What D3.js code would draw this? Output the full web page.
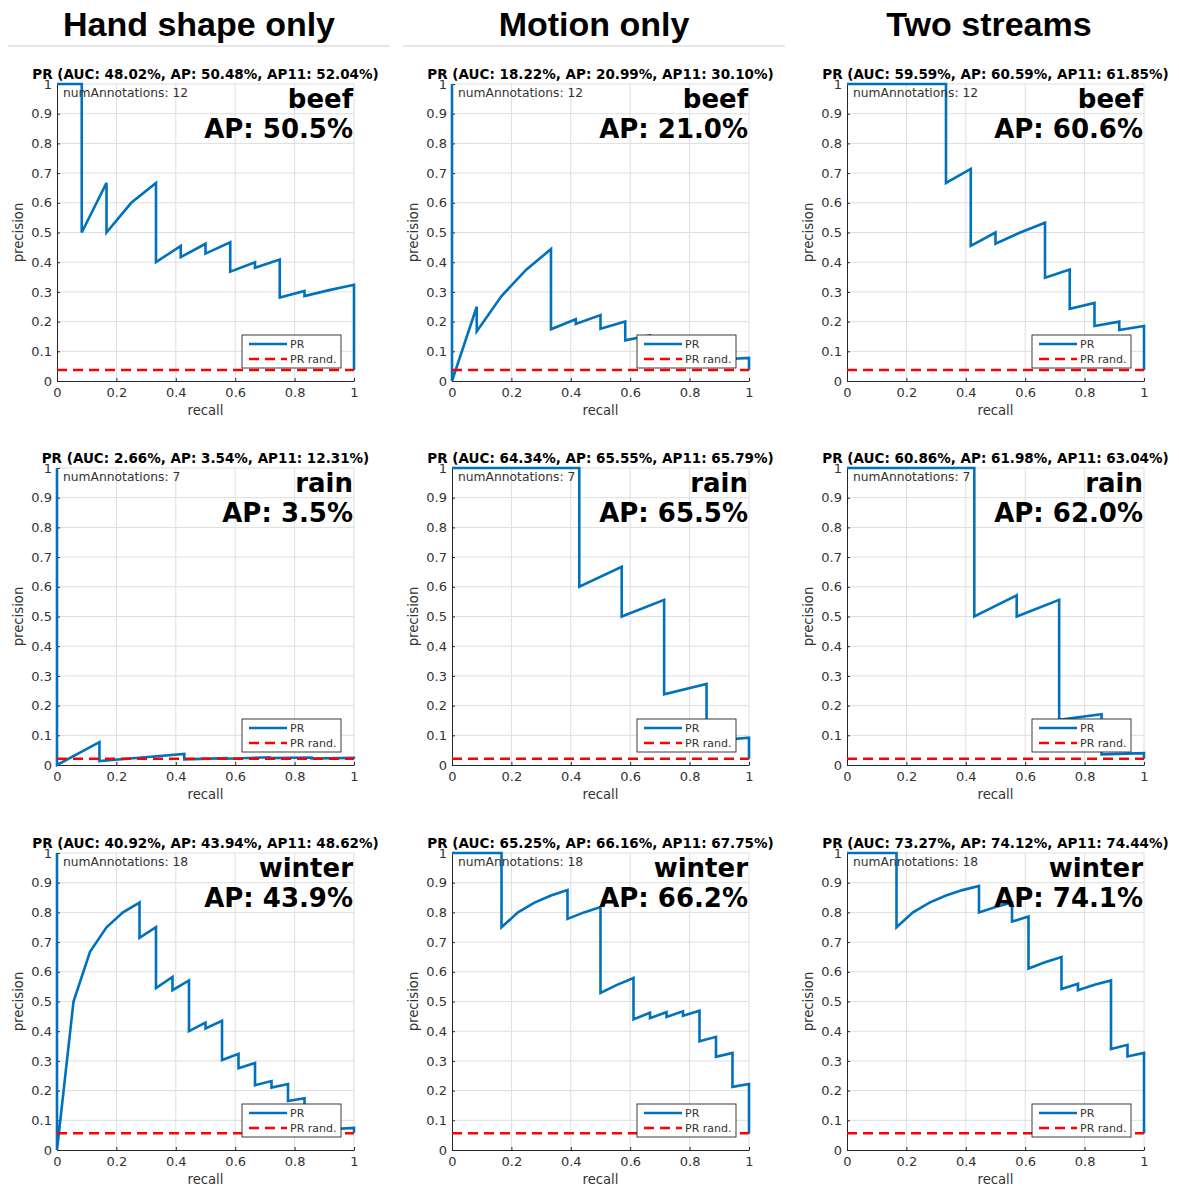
<!DOCTYPE html>
<html>
<head>
<meta charset="utf-8">
<script src="https://cdn.jsdelivr.net/npm/d3@7"></script>
<style>
  html, body { margin: 0; padding: 0; background: #fff; }
  svg { display: block; }
</style>
</head>
<body>
<svg id="chart" width="1179" height="1187"></svg>
<script>
// Column headers (one per feature stream) and row classes
const methods = ["Hand shape only", "Motion only", "Two streams"];
const classes = ["beef", "rain", "winter"];
const numAnnotations = [12, 7, 18];
const randPrecision = [0.037, 0.021, 0.056];

// Summary scores per class (rows) and method (columns), in percent
const aucValues  = [[48.02, 18.22, 59.59], [2.66, 64.34, 60.86], [40.92, 65.25, 73.27]];
const apValues   = [[50.48, 20.99, 60.59], [3.54, 65.55, 61.98], [43.94, 66.16, 74.12]];
const ap11Values = [[52.04, 30.10, 61.85], [12.31, 65.79, 63.04], [48.62, 67.75, 74.44]];

// Axis ticks
const xTicks = [0, 0.2, 0.4, 0.6, 0.8, 1];
const xTickLabels = ["0", "0.2", "0.4", "0.6", "0.8", "1"];
const yTicks = [0, 0.1, 0.2, 0.3, 0.4, 0.5, 0.6, 0.7, 0.8, 0.9, 1];
const yTickLabels = ["0", "0.1", "0.2", "0.3", "0.4", "0.5", "0.6", "0.7", "0.8", "0.9", "1"];

// Precision-recall curves, [recall, precision]
const prBeefHand = [[0,1],[0.0833,1],[0.0833,0.5],[0.1667,0.667],[0.1667,0.5],[0.25,0.6],[0.3333,0.667],[0.3333,0.4],[0.4167,0.455],[0.4167,0.417],[0.5,0.462],[0.5,0.429],[0.5833,0.467],[0.5833,0.368],[0.6667,0.4],[0.6667,0.381],[0.75,0.409],[0.75,0.281],[0.8333,0.303],[0.8333,0.286],[0.9167,0.306],[1,0.324],[1,0.037]];
const prBeefMotion = [[0,1],[0,0],[0.0833,0.25],[0.0833,0.167],[0.1667,0.286],[0.25,0.375],[0.3333,0.444],[0.3333,0.174],[0.4167,0.208],[0.4167,0.192],[0.5,0.222],[0.5,0.176],[0.5833,0.2],[0.5833,0.137],[0.6667,0.154],[0.6667,0.11],[0.75,0.12],[0.75,0.09],[0.8333,0.1],[0.8333,0.07],[0.9167,0.073],[1,0.078],[1,0.037]];
const prBeefTwo = [[0,1],[0.0833,1],[0.1667,1],[0.25,1],[0.3333,1],[0.3333,0.667],[0.4167,0.714],[0.4167,0.455],[0.5,0.5],[0.5,0.462],[0.5833,0.5],[0.6667,0.533],[0.6667,0.348],[0.75,0.375],[0.75,0.243],[0.8333,0.263],[0.8333,0.185],[0.9167,0.2],[0.9167,0.172],[1,0.185],[1,0.037]];
const prRainHand = [[0,1],[0,0],[0.1429,0.077],[0.1429,0.013],[0.2857,0.025],[0.4286,0.037],[0.4286,0.019],[0.5714,0.023],[0.5714,0.021],[0.7143,0.026],[0.7143,0.023],[0.8571,0.025],[0.8571,0.022],[1,0.024],[1,0.021]];
const prRainMotion = [[0,1],[0.1429,1],[0.2857,1],[0.4286,1],[0.4286,0.6],[0.5714,0.667],[0.5714,0.5],[0.7143,0.556],[0.7143,0.238],[0.8571,0.273],[0.8571,0.08],[1,0.092],[1,0.021]];
const prRainTwo = [[0,1],[0.1429,1],[0.2857,1],[0.4286,1],[0.4286,0.5],[0.5714,0.571],[0.5714,0.5],[0.7143,0.556],[0.7143,0.152],[0.8571,0.171],[0.8571,0.036],[1,0.04],[1,0.021]];
const prWinterHand = [[0,1],[0,0],[0.0556,0.5],[0.1111,0.667],[0.1667,0.75],[0.2222,0.8],[0.2778,0.833],[0.2778,0.714],[0.3333,0.75],[0.3333,0.545],[0.3889,0.583],[0.3889,0.538],[0.4444,0.571],[0.4444,0.4],[0.5,0.429],[0.5,0.409],[0.5556,0.435],[0.5556,0.303],[0.6111,0.324],[0.6111,0.275],[0.6667,0.293],[0.6667,0.218],[0.7222,0.232],[0.7222,0.21],[0.7778,0.222],[0.7778,0.165],[0.8333,0.174],[0.8333,0.115],[0.8889,0.122],[0.8889,0.07],[0.9444,0.0736],[0.9444,0.071],[1,0.0744],[1,0.058]];
const prWinterMotion = [[0,1],[0.0556,1],[0.1111,1],[0.1667,1],[0.1667,0.75],[0.2222,0.8],[0.2778,0.833],[0.3333,0.857],[0.3889,0.875],[0.3889,0.778],[0.4444,0.8],[0.5,0.818],[0.5,0.529],[0.5556,0.556],[0.6111,0.579],[0.6111,0.44],[0.6667,0.462],[0.6667,0.444],[0.7222,0.464],[0.7222,0.448],[0.7778,0.467],[0.7778,0.452],[0.8333,0.469],[0.8333,0.366],[0.8889,0.381],[0.8889,0.314],[0.9444,0.327],[0.9444,0.2125],[1,0.222],[1,0.0556]];
const prWinterTwo = [[0,1],[0.0556,1],[0.1111,1],[0.1667,1],[0.1667,0.75],[0.2222,0.8],[0.2778,0.833],[0.3333,0.857],[0.3889,0.875],[0.4444,0.889],[0.4444,0.8],[0.5,0.818],[0.5556,0.833],[0.5556,0.769],[0.6111,0.786],[0.6111,0.611],[0.6667,0.632],[0.7222,0.65],[0.7222,0.542],[0.7778,0.56],[0.7778,0.538],[0.8333,0.556],[0.8889,0.571],[0.8889,0.34],[0.9444,0.354],[0.9444,0.315],[1,0.327],[1,0.0556]];

const curves = [
  [prBeefHand, prBeefMotion, prBeefTwo],
  [prRainHand, prRainMotion, prRainTwo],
  [prWinterHand, prWinterMotion, prWinterTwo]
];

// Layout
const colLeft = [57, 452, 847];
const rowTop = [84, 468, 853];
const plotW = 297, plotH = 297;
const colStep = 395;

const BLUE = "#0072BD";
const RED = "#FF0000";
const AX = "#262626";
const LABEL = "#333333";
const GRID = "#dedede";
const FONT = "'DejaVu Sans', sans-serif";

const svg = d3.select("#chart");

// Column headers with underline rules
methods.forEach((m, c) => {
  const cx = c * colStep + 199;
  svg.append("text")
    .attr("x", cx).attr("y", 36)
    .attr("text-anchor", "middle")
    .attr("font-family", "'Liberation Sans', Arial, sans-serif")
    .attr("font-weight", "bold")
    .attr("font-size", 34)
    .attr("fill", "#000")
    .text(m);
  if (c < 2) {
    svg.append("line")
      .attr("x1", c * colStep + 8).attr("x2", c * colStep + 390)
      .attr("y1", 46).attr("y2", 46)
      .attr("stroke", "#cfcfcf").attr("stroke-width", 1.2);
  }
});

const x = d3.scaleLinear().domain([0, 1]).range([0, plotW]);
const y = d3.scaleLinear().domain([0, 1]).range([plotH, 0]);
const line = d3.line().x(d => x(d[0])).y(d => y(d[1]));

classes.forEach((cls, r) => {
  methods.forEach((m, c) => {
    const g = svg.append("g").attr("transform", `translate(${colLeft[c]},${rowTop[r]})`);

    // grid
    g.append("g").selectAll("line").data(xTicks.filter(t => t > 0)).join("line")
      .attr("x1", d => x(d)).attr("x2", d => x(d))
      .attr("y1", 0).attr("y2", plotH)
      .attr("stroke", GRID).attr("stroke-width", 1);
    g.append("g").selectAll("line").data(yTicks.filter(t => t > 0)).join("line")
      .attr("x1", 0).attr("x2", plotW)
      .attr("y1", d => y(d)).attr("y2", d => y(d))
      .attr("stroke", GRID).attr("stroke-width", 1);

    // axes with inward ticks
    const xAxis = d3.axisBottom(x).tickValues(xTicks)
      .tickFormat((d, i) => xTickLabels[i])
      .tickSizeInner(-3).tickSizeOuter(0).tickPadding(7);
    const yAxis = d3.axisLeft(y).tickValues(yTicks)
      .tickFormat((d, i) => yTickLabels[i])
      .tickSizeInner(-3).tickSizeOuter(0).tickPadding(5);

    const gx = g.append("g").attr("transform", `translate(0,${plotH})`).call(xAxis);
    const gy = g.append("g").call(yAxis);
    [gx, gy].forEach(ax => {
      ax.select(".domain").attr("stroke", AX).attr("stroke-width", 1);
      ax.selectAll(".tick line").attr("stroke", AX).attr("stroke-width", 1);
      ax.selectAll(".tick text")
        .attr("fill", LABEL)
        .attr("font-family", FONT)
        .attr("font-size", 13);
    });

    // axis titles
    g.append("text")
      .attr("x", plotW / 2).attr("y", plotH + 34)
      .attr("text-anchor", "middle")
      .attr("font-family", FONT).attr("font-size", 13.2)
      .attr("fill", LABEL)
      .text("recall");
    g.append("text")
      .attr("transform", `translate(-34,${plotH / 2}) rotate(-90)`)
      .attr("text-anchor", "middle")
      .attr("font-family", FONT).attr("font-size", 13.2)
      .attr("fill", LABEL)
      .text("precision");

    // PR curve
    g.append("path")
      .datum(curves[r][c])
      .attr("d", line)
      .attr("fill", "none")
      .attr("stroke", BLUE)
      .attr("stroke-width", 2.6)
      .attr("stroke-linejoin", "miter");

    // random-classifier baseline
    g.append("line")
      .attr("x1", x(0)).attr("x2", x(1))
      .attr("y1", y(randPrecision[r])).attr("y2", y(randPrecision[r]))
      .attr("stroke", RED).attr("stroke-width", 2.5)
      .attr("stroke-dasharray", "10,6");

    // panel title
    g.append("text")
      .attr("x", plotW / 2).attr("y", -5.5)
      .attr("text-anchor", "middle")
      .attr("font-family", FONT).attr("font-weight", "bold")
      .attr("font-size", 13.5)
      .attr("fill", "#000")
      .text(`PR (AUC: ${aucValues[r][c].toFixed(2)}%, AP: ${apValues[r][c].toFixed(2)}%, AP11: ${ap11Values[r][c].toFixed(2)}%)`);

    g.append("text")
      .attr("x", 6).attr("y", 13)
      .attr("font-family", FONT).attr("font-size", 12.3)
      .attr("fill", LABEL)
      .text(`numAnnotations: ${numAnnotations[r]}`);

    // class name and AP
    g.append("text")
      .attr("x", plotW - 1).attr("y", 24)
      .attr("text-anchor", "end")
      .attr("font-family", FONT).attr("font-weight", "bold")
      .attr("font-size", 26)
      .attr("fill", "#000")
      .text(cls);
    g.append("text")
      .attr("x", plotW - 1).attr("y", 54)
      .attr("text-anchor", "end")
      .attr("font-family", FONT).attr("font-weight", "bold")
      .attr("font-size", 26)
      .attr("fill", "#000")
      .text(`AP: ${apValues[r][c].toFixed(1)}%`);

    // legend
    const lw = 99, lh = 33;
    const lg = g.append("g").attr("transform", `translate(${plotW - 13 - lw},${plotH - 13 - lh})`);
    lg.append("rect")
      .attr("width", lw).attr("height", lh)
      .attr("fill", "#fff").attr("stroke", AX).attr("stroke-width", 0.9);
    lg.append("line")
      .attr("x1", 7).attr("x2", 45).attr("y1", 9).attr("y2", 9)
      .attr("stroke", BLUE).attr("stroke-width", 2.4);
    lg.append("line")
      .attr("x1", 7).attr("x2", 45).attr("y1", 24).attr("y2", 24)
      .attr("stroke", RED).attr("stroke-width", 2.5)
      .attr("stroke-dasharray", "10,6");
    lg.append("text")
      .attr("x", 48).attr("y", 9).attr("dy", "0.36em")
      .attr("font-family", FONT).attr("font-size", 11)
      .attr("fill", LABEL).text("PR");
    lg.append("text")
      .attr("x", 48).attr("y", 24).attr("dy", "0.36em")
      .attr("font-family", FONT).attr("font-size", 11)
      .attr("fill", LABEL).text("PR rand.");
  });
});
</script>
</body>
</html>
